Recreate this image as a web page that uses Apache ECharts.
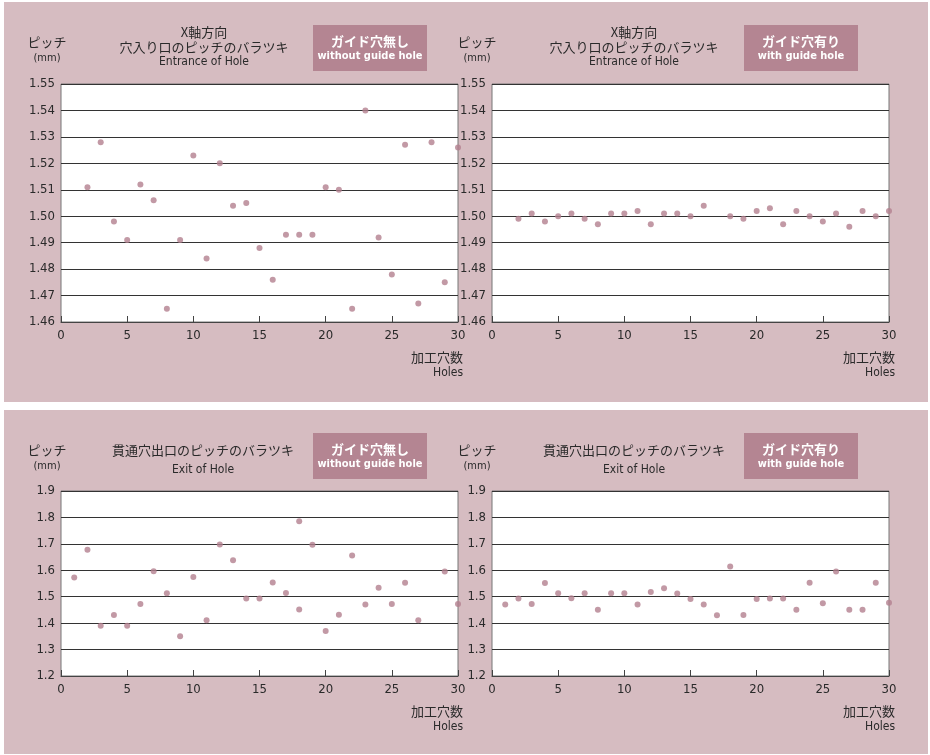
<!DOCTYPE html>
<html>
<head>
<meta charset="utf-8">
<script src="https://cdn.jsdelivr.net/npm/echarts@6/dist/echarts.min.js"></script>
<style>
  html, body { margin: 0; padding: 0; background: #fff; }
  #main { width: 930px; height: 755px; }
</style>
</head>
<body>
<div id="main"></div>
<script>
// 穴入り口 (Entrance of Hole) - ガイド穴無し
var entNoGuideX = [2, 3, 4, 5, 6, 7, 8, 9, 10, 11, 12, 13, 14, 15, 16, 17, 18, 19, 20, 21, 22, 23, 24, 25, 26, 27, 28, 29, 30];
var entNoGuideY = [1.511, 1.528, 1.498, 1.491, 1.512, 1.506, 1.465, 1.491, 1.523, 1.484, 1.520, 1.504, 1.505, 1.488, 1.476, 1.493, 1.493, 1.493, 1.511, 1.510, 1.465, 1.540, 1.492, 1.478, 1.527, 1.467, 1.528, 1.475, 1.526];
// 穴入り口 - ガイド穴有り
var entGuideX = [2, 3, 4, 5, 6, 7, 8, 9, 10, 11, 12, 13, 14, 15, 16, 18, 19, 20, 21, 22, 23, 24, 25, 26, 27, 28, 29, 30];
var entGuideY = [1.499, 1.501, 1.498, 1.500, 1.501, 1.499, 1.497, 1.501, 1.501, 1.502, 1.497, 1.501, 1.501, 1.500, 1.504, 1.500, 1.499, 1.502, 1.503, 1.497, 1.502, 1.500, 1.498, 1.501, 1.496, 1.502, 1.500, 1.502];
// 貫通穴出口 (Exit of Hole) - ガイド穴無し
var exitNoGuideX = [1, 2, 3, 4, 5, 6, 7, 8, 9, 10, 11, 12, 13, 14, 15, 16, 17, 18, 18, 19, 20, 21, 22, 23, 24, 25, 26, 27, 29, 30];
var exitNoGuideY = [1.573, 1.678, 1.390, 1.431, 1.390, 1.472, 1.596, 1.513, 1.350, 1.575, 1.411, 1.698, 1.638, 1.493, 1.493, 1.554, 1.514, 1.786, 1.452, 1.697, 1.370, 1.432, 1.656, 1.471, 1.534, 1.472, 1.553, 1.411, 1.595, 1.472];
// 貫通穴出口 - ガイド穴有り
var exitGuideX = [1, 2, 3, 4, 5, 6, 7, 8, 9, 10, 11, 12, 13, 14, 15, 16, 17, 18, 19, 20, 21, 22, 23, 24, 25, 26, 27, 28, 29, 30];
var exitGuideY = [1.471, 1.493, 1.472, 1.552, 1.513, 1.494, 1.513, 1.451, 1.513, 1.513, 1.471, 1.518, 1.532, 1.512, 1.491, 1.471, 1.430, 1.614, 1.431, 1.491, 1.493, 1.493, 1.451, 1.553, 1.475, 1.595, 1.451, 1.451, 1.553, 1.477];

var NARROW = "'Liberation Sans Narrow', 'DejaVu Sans Condensed', sans-serif";
var JP = "'Noto Sans CJK JP', sans-serif";
var PANEL = '#d6bcc1';
var BADGE = '#b48592';
var DOT = '#b37f8e';
var TXT = '#2a2a2a';

function pairs(xs, ys) {
  return xs.map(function (x, i) { return [x, ys[i]]; });
}

var grids = [
  { left: 61, top: 84, width: 397, height: 238 },
  { left: 492, top: 84, width: 397, height: 238 },
  { left: 61, top: 491, width: 397, height: 185 },
  { left: 492, top: 491, width: 397, height: 185 }
].map(function (g) {
  g.show = true;
  g.backgroundColor = '#fff';
  g.borderColor = '#777';
  g.borderWidth = 1;
  return g;
});

function xAx(i) {
  return {
    type: 'value', gridIndex: i, min: 0, max: 30, interval: 5,
    axisLine: { show: true, lineStyle: { color: '#444', width: 1 } },
    axisTick: { show: true, inside: true, length: 6, lineStyle: { color: '#444' } },
    axisLabel: { color: TXT, fontFamily: NARROW, fontSize: 13, margin: 7 },
    splitLine: { show: false }
  };
}
function yAx(i, min, max, step, dec) {
  return {
    type: 'value', gridIndex: i, min: min, max: max, interval: step,
    axisLine: { show: false },
    axisTick: { show: false },
    axisLabel: {
      color: TXT, fontFamily: NARROW, fontSize: 13, margin: 6, padding: [0, 0, 7, 0],
      formatter: function (v) { return v.toFixed(dec); }
    },
    splitLine: { show: true, lineStyle: { color: '#333', width: 1 } }
  };
}

function txt(x, y, s, size, opt) {
  opt = opt || {};
  return {
    type: 'text', x: x, y: y, z: 10,
    style: {
      text: s, fontSize: size, fontFamily: opt.font || JP,
      fontWeight: opt.bold ? 'bold' : 'normal',
      fill: opt.fill || TXT, align: opt.align || 'center', verticalAlign: 'middle'
    }
  };
}

function header(ox, oy, titleLines, enTitle, badgeJp, badgeEn, titleX, badgeX) {
  var g = [];
  g.push(txt(ox + 47, oy + 42, 'ピッチ', 13));
  g.push(txt(ox + 47, oy + 58, '(mm)', 11, { font: NARROW }));
  if (titleLines.length === 2) {
    g.push(txt(titleX, oy + 32, titleLines[0], 13));
    g.push(txt(titleX, oy + 47, titleLines[1], 13));
  } else {
    g.push(txt(titleX, oy + 42, titleLines[0], 13));
  }
  g.push(txt(titleX, oy + 62, enTitle, 12, { font: NARROW }));
  g.push({ type: 'rect', shape: { x: badgeX, y: oy + 25, width: 114, height: 46 }, style: { fill: BADGE }, z: 5 });
  g.push(txt(badgeX + 57, oy + 41, badgeJp, 13, { bold: true, fill: '#fff' }));
  g.push(txt(badgeX + 57, oy + 56, badgeEn, 11, { bold: true, fill: '#fff', font: NARROW }));
  return g;
}

var graphics = [
  { type: 'rect', shape: { x: 4, y: 2, width: 924, height: 400 }, style: { fill: PANEL }, z: -10 },
  { type: 'rect', shape: { x: 4, y: 410, width: 924, height: 344 }, style: { fill: PANEL }, z: -10 }
];
graphics = graphics
  .concat(header(0, 0, ['X軸方向', '穴入り口のピッチのバラツキ'], 'Entrance of Hole', 'ガイド穴無し', 'without guide hole', 204, 313))
  .concat(header(430, 0, ['X軸方向', '穴入り口のピッチのバラツキ'], 'Entrance of Hole', 'ガイド穴有り', 'with guide hole', 634, 744))
  .concat(header(0, 408, ['貫通穴出口のピッチのバラツキ'], 'Exit of Hole', 'ガイド穴無し', 'without guide hole', 203, 313))
  .concat(header(430, 408, ['貫通穴出口のピッチのバラツキ'], 'Exit of Hole', 'ガイド穴有り', 'with guide hole', 634, 744));
// axis names
[[463, 357], [895, 357], [463, 711], [895, 711]].forEach(function (p) {
  graphics.push(txt(p[0], p[1], '加工穴数', 13, { align: 'right' }));
  graphics.push(txt(p[0], p[1] + 16, 'Holes', 12, { align: 'right', font: NARROW }));
});

function sc(i, data) {
  return {
    type: 'scatter', xAxisIndex: i, yAxisIndex: i, data: data,
    symbol: 'circle', symbolSize: 6, clip: false,
    itemStyle: { color: DOT }, silent: true, z: 5
  };
}

var chart = echarts.init(document.getElementById('main'));
chart.setOption({
  animation: false,
  backgroundColor: '#fff',
  grid: grids,
  xAxis: [xAx(0), xAx(1), xAx(2), xAx(3)],
  yAxis: [
    yAx(0, 1.46, 1.55, 0.01, 2),
    yAx(1, 1.46, 1.55, 0.01, 2),
    yAx(2, 1.2, 1.9, 0.1, 1),
    yAx(3, 1.2, 1.9, 0.1, 1)
  ],
  graphic: graphics,
  series: [
    sc(0, pairs(entNoGuideX, entNoGuideY)),
    sc(1, pairs(entGuideX, entGuideY)),
    sc(2, pairs(exitNoGuideX, exitNoGuideY)),
    sc(3, pairs(exitGuideX, exitGuideY))
  ]
});
</script>
</body>
</html>
